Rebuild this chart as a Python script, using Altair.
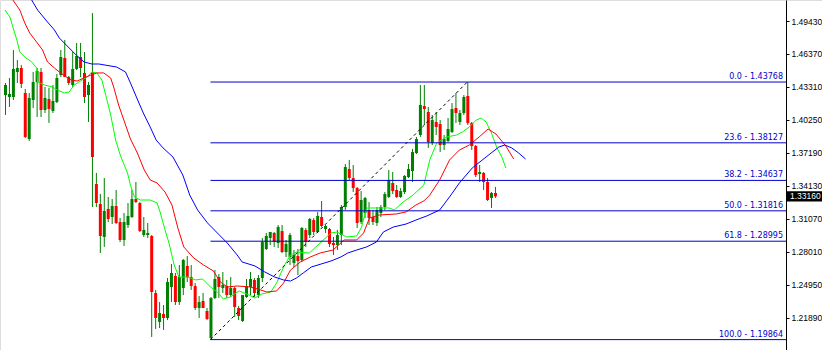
import altair as alt
import pandas as pd

# ---- candle data (bar index 0..124) ----
opens = [1.4256,1.4238,1.4238,1.4470,1.4507,1.4275,1.3848,1.4210,1.4377,1.4470,
         1.4117,1.4219,1.4108,1.4191,1.4442,1.4600,1.4423,1.4349,1.4498,1.4609,
         1.4461,1.4256,1.4470,1.3430,1.3245,1.2939,1.3199,1.3124,1.3226,1.3078,
         1.2911,1.3050,1.3124,1.3291,1.3254,1.2957,1.2957,1.2948,1.2419,1.2150,
         1.2224,1.2187,1.2475,1.2577,1.2335,1.2465,1.2670,1.2567,1.2484,1.2280,
         1.2345,1.2252,1.2001,1.2373,1.2567,1.2465,1.2484,1.2400,1.2465,1.2280,
         1.2159,1.2382,1.2475,1.2540,1.2400,1.2558,1.2827,1.2929,1.2976,1.2883,
         1.2994,1.2799,1.2753,1.2697,1.2762,1.2725,1.3004,1.2957,1.3096,1.2985,
         1.3124,1.3013,1.3013,1.2883,1.2864,1.2957,1.3217,1.3570,1.3486,1.3393,
         1.3078,1.3161,1.3189,1.3124,1.3069,1.3161,1.3217,1.3310,1.3440,1.3375,
         1.3310,1.3356,1.3495,1.3551,1.3718,1.3885,1.4154,1.4099,1.3811,1.4006,
         1.3987,1.3792,1.3830,1.3913,1.4136,1.4006,1.4089,1.4247,1.3997,1.3783,
         1.3523,1.3533,1.3449,1.3301,1.3347]
highs = [1.4368,1.4414,1.4674,1.4581,1.4535,1.4312,1.4275,1.4470,1.4507,1.4507,
         1.4331,1.4321,1.4349,1.4451,1.4674,1.4767,1.4433,1.4655,1.4739,1.4739,
         1.4655,1.4377,1.5017,1.3533,1.3338,1.3486,1.3310,1.3291,1.3375,1.3115,
         1.3161,1.3254,1.3375,1.3449,1.3263,1.3124,1.3069,1.2957,1.2447,1.2335,
         1.2308,1.2558,1.2688,1.2605,1.2679,1.2734,1.2762,1.2679,1.2512,1.2391,
         1.2419,1.2280,1.2382,1.2632,1.2595,1.2614,1.2540,1.2567,1.2475,1.2298,
         1.2400,1.2549,1.2614,1.2558,1.2586,1.2929,1.2976,1.2985,1.2985,1.3050,
         1.3050,1.2911,1.2976,1.2818,1.2827,1.3031,1.3022,1.3115,1.3115,1.3171,
         1.3273,1.3050,1.3022,1.2939,1.3004,1.3236,1.3616,1.3653,1.3607,1.3403,
         1.3365,1.3310,1.3263,1.3189,1.3217,1.3236,1.3356,1.3560,1.3542,1.3421,
         1.3393,1.3514,1.3616,1.3755,1.3867,1.4349,1.4349,1.4145,1.4071,1.4099,
         1.4024,1.3885,1.4043,1.4182,1.4275,1.4117,1.4256,1.43768,1.4006,1.3792,
         1.3607,1.3542,1.3486,1.3356,1.3403]
lows = [1.4071,1.4145,1.4210,1.4368,1.4321,1.3857,1.3830,1.4136,1.4052,1.4052,
        1.4089,1.3997,1.4089,1.4182,1.4423,1.4423,1.4349,1.4331,1.4488,1.4423,
        1.4182,1.4006,1.3217,1.3217,1.2790,1.2846,1.3078,1.3059,1.3059,1.2892,
        1.2855,1.3022,1.3115,1.3254,1.2985,1.2939,1.2929,1.2011,1.2085,1.2094,
        1.2076,1.2168,1.2335,1.2308,1.2308,1.2400,1.2521,1.2447,1.2261,1.2187,
        1.2280,1.2168,1.19864,1.2363,1.2373,1.2419,1.2373,1.2382,1.2196,1.2168,
        1.2150,1.2373,1.2400,1.2382,1.2373,1.2521,1.2818,1.2864,1.2846,1.2837,
        1.2790,1.2753,1.2679,1.2660,1.2586,1.2707,1.2846,1.2929,1.2957,1.2976,
        1.3031,1.2976,1.2846,1.2772,1.2818,1.2864,1.3189,1.3468,1.3356,1.3022,
        1.3059,1.3115,1.3050,1.3050,1.3041,1.3124,1.3189,1.3301,1.3338,1.3301,
        1.3301,1.3338,1.3486,1.3449,1.3709,1.3867,1.3978,1.3765,1.3792,1.3885,
        1.3727,1.3746,1.3820,1.3904,1.3997,1.3978,1.4071,1.3978,1.3746,1.3495,
        1.3449,1.3375,1.3273,1.3208,1.3301]
closes = [1.4349,1.4266,1.4498,1.4507,1.4359,1.3867,1.4229,1.4377,1.4479,1.4117,
          1.4229,1.4126,1.4201,1.4414,1.4609,1.4423,1.4368,1.4498,1.4618,1.4507,
          1.4238,1.4349,1.3681,1.3254,1.2948,1.3180,1.3106,1.3226,1.3069,1.2911,
          1.3078,1.3134,1.3291,1.3263,1.2994,1.3004,1.2976,1.2428,1.2187,1.2233,
          1.2187,1.2521,1.2605,1.2335,1.2567,1.2725,1.2567,1.2484,1.2280,1.2335,
          1.2280,1.2178,1.2373,1.2549,1.2475,1.2493,1.2400,1.2465,1.2289,1.2206,
          1.2400,1.2484,1.2549,1.2419,1.2558,1.2892,1.2948,1.2985,1.2892,1.3031,
          1.2799,1.2874,1.2957,1.2772,1.2716,1.3022,1.2892,1.3106,1.2985,1.3134,
          1.3041,1.3041,1.2874,1.2864,1.2957,1.3217,1.3588,1.3486,1.3393,1.3069,
          1.3282,1.3301,1.3115,1.3078,1.3189,1.3217,1.3338,1.3468,1.3365,1.3310,
          1.3365,1.3505,1.3570,1.3727,1.3848,1.4164,1.4126,1.3820,1.4024,1.3959,
          1.3792,1.3848,1.3941,1.4126,1.4089,1.4089,1.4238,1.3997,1.3783,1.3514,
          1.3542,1.3449,1.3282,1.3347,1.3316]

# ---- Alligator-style lines (bar index, price) ----
green_i = [0,1.25,2,3,3.75,5,6.75,8,8.25,10,12,13.25,15,16.25,17.5,19.5,20.75,22,23.25,24.5,
           25.5,26.75,28,29.25,31,31.75,32.75,34.25,36.75,38.5,39.25,40.5,41.5,42.75,44,46.25,
           48.25,50,52,53.75,55.25,57,59.25,61.75,63.25,65,67.25,68.75,70.5,72.25,73.75,77,
           79.75,82.5,84,86.5,89,90.25,91.5,94,97.25,98.5,100.75,103.25,106,107.5,109.25,
           111.75,114.25,115.75,117.5,119.25,120.5,121.75,123,124.5,125.75,126.75]
green_v = [1.5045,1.4980,1.4887,1.4767,1.4655,1.4609,1.4563,1.4507,1.4377,1.4349,1.4331,1.4303,
           1.4275,1.4284,1.4349,1.4396,1.4423,1.4470,1.4461,1.4396,1.4256,1.4071,1.3839,1.3690,
           1.3533,1.3421,1.3310,1.3282,1.3282,1.3254,1.3171,1.3004,1.2883,1.2688,1.2567,1.2567,
           1.2540,1.2549,1.2475,1.2428,1.2363,1.2382,1.2438,1.2400,1.2373,1.2410,1.2428,1.2512,
           1.2660,1.2772,1.2799,1.2790,1.2883,1.2976,1.2985,1.2939,1.2948,1.3031,1.3208,1.3208,
           1.3208,1.3189,1.3263,1.3328,1.3421,1.3653,1.3811,1.3867,1.3885,1.3913,1.3959,1.4024,
           1.4043,1.4006,1.3913,1.3765,1.3681,1.3579]
red_i = [1,2,3.75,5,6.25,8,9.5,10.75,12.5,13.75,15.5,16.75,18.25,20.5,21.75,23.25,25,26.75,27.5,
         28.75,30.25,31.75,33.5,35.25,36.75,38.5,40.5,42.25,43.75,45.25,47.75,50.25,52.75,54.5,
         56.25,58.75,62,64,66.25,68.75,70.5,72.25,74.75,77.25,79.75,83,85,85.75,89,90.75,92.25,
         94.75,99,101.5,104,106,107.5,110,112.5,115,117.5,120,122.25,124.25,126.75,128.75]
red_v = [1.5249,1.5138,1.5045,1.4925,1.4832,1.4748,1.4674,1.4563,1.4507,1.4470,1.4423,1.4396,
         1.4386,1.4423,1.4442,1.4461,1.4461,1.4414,1.4331,1.4164,1.4006,1.3848,1.3718,1.3560,
         1.3468,1.3440,1.3356,1.3236,1.3022,1.2846,1.2744,1.2679,1.2623,1.2521,1.2475,1.2484,
         1.2475,1.2456,1.2428,1.2438,1.2512,1.2632,1.2707,1.2753,1.2790,1.2818,1.2883,1.2911,
         1.2911,1.2976,1.3115,1.3143,1.3152,1.3171,1.3236,1.3273,1.3328,1.3468,1.3653,1.3746,
         1.3792,1.3867,1.3941,1.3894,1.3783,1.3662]
blue_i = [5.25,6.75,8.25,10.75,12.5,13.75,15,16.75,18,20,22,23.75,28.25,30.5,31.75,33.25,35,36.75,
          38.25,40,42.5,45,46.75,48.75,51.25,53.75,56.25,58.75,60,63.25,65.75,68.25,70.5,72.25,
          73.75,75.5,77.5,80,82.5,85,86.75,89,91.5,94,95.75,98.25,101.5,104,106.75,110,112.5,
          115,118.25,121.75,125,126.5,128.25,130,131.75]
blue_v = [1.5231,1.5138,1.5045,1.4934,1.4860,1.4785,1.4739,1.4674,1.4628,1.4563,1.4544,1.4544,
          1.4516,1.4470,1.4368,1.4238,1.4089,1.3959,1.3839,1.3765,1.3681,1.3514,1.3328,1.3189,
          1.3069,1.2976,1.2883,1.2772,1.2707,1.2670,1.2614,1.2567,1.2540,1.2530,1.2558,1.2605,
          1.2660,1.2688,1.2716,1.2753,1.2790,1.2818,1.2846,1.2892,1.2985,1.3031,1.3059,1.3096,
          1.3134,1.3189,1.3310,1.3440,1.3579,1.3681,1.3774,1.3792,1.3765,1.3718,1.3662]

# ---- Fibonacci retracement ----
fib_pct = ["0.0", "23.6", "38.2", "50.0", "61.8", "100.0"]
fib_val = [1.43768, 1.38127, 1.34637, 1.31816, 1.28995, 1.19864]
swing_i = [52, 117]
swing_v = [1.19864, 1.43768]

tick_values = [1.4943, 1.4637, 1.4331, 1.4025, 1.3719, 1.3413, 1.3107, 1.2801, 1.2495, 1.2189]
last_price = 1.3316
last_label = "1.33160"

FONT = "DejaVu Sans"
AXIS_FONT = "Liberation Sans"
FIB_COLOR = "#0000CD"

candles = pd.DataFrame({"i": list(range(len(opens))), "o": opens, "h": highs,
                        "l": lows, "c": closes})
xs = alt.Scale(domain=[0, 205.5], nice=False, zero=False)
ys = alt.Scale(domain=[1.1890, 1.5138], nice=False, zero=False)
yaxis = alt.Axis(orient="right", offset=-36, values=tick_values, format=".5f", grid=False,
                 title=None, domainColor="black", tickColor="black", tickSize=3,
                 labelFont=AXIS_FONT, labelFontSize=8.5, labelColor="black", labelPadding=2,
                 labelOverlap=False, labelFlush=False)
X = lambda f: alt.X(f, scale=xs, axis=None)
Y = lambda f: alt.Y(f, scale=ys, axis=yaxis)

wicks = alt.Chart(candles).mark_rule(color="#008000", strokeWidth=1, xOffset=0.5).encode(
    x=X("i:Q"), y=Y("l:Q"), y2="h:Q")
bodies = alt.Chart(candles).mark_bar(size=3, xOffset=0.5).encode(
    x=X("i:Q"), y=Y("o:Q"), y2="c:Q",
    color=alt.condition("datum.c >= datum.o", alt.value("#008000"), alt.value("#FF0000")))

def ma(idx, vals, color):
    df = pd.DataFrame({"i": idx, "v": vals})
    return alt.Chart(df).mark_line(color=color, strokeWidth=1, clip=True).encode(
        x=X("i:Q"), y=Y("v:Q"))

green = ma(green_i, green_v, "#00FF00")
red = ma(red_i, red_v, "#FF0000")
blue = ma(blue_i, blue_v, "#0000FF")

fib_df = pd.DataFrame({"v": fib_val,
                       "label": [f"{p} - {v:.5f}" for p, v in zip(fib_pct, fib_val)],
                       "start": [swing_i[0]] * len(fib_val)})
fib_rules = alt.Chart(fib_df).mark_rule(color=FIB_COLOR, strokeWidth=1).encode(
    x=X("start:Q"), x2=alt.value(786), y=Y("v:Q"))
fib_labels = alt.Chart(fib_df).mark_text(align="right", baseline="bottom", dy=-1, font=FONT,
                                         fontSize=8, color=FIB_COLOR).encode(
    x=alt.value(783), y=Y("v:Q"), text="label:N")

swing = alt.Chart(pd.DataFrame({"i": swing_i, "v": swing_v})).mark_line(
    color="black", strokeWidth=1, strokeDash=[3, 3]).encode(x=X("i:Q"), y=Y("v:Q"))

price_df = pd.DataFrame({"p": [last_price], "t": [last_label]})
box = alt.Chart(price_df).transform_calculate(
    top="datum.p + 0.0047", bot="datum.p - 0.0047").mark_rect(color="black", clip=False).encode(
    x=alt.value(787), x2=alt.value(822), y=Y("top:Q"), y2="bot:Q")
box_text = alt.Chart(price_df).mark_text(align="left", baseline="middle", font=AXIS_FONT,
                                         fontSize=8.5, color="white").encode(
    x=alt.value(790), y=Y("p:Q"), text="t:N")

chart = alt.layer(wicks, bodies, green, red, blue, fib_rules, fib_labels, swing, box, box_text
                  ).properties(width=822, height=350,
                               autosize=alt.AutoSizeParams(type="none"), padding=0
                  ).configure_view(strokeWidth=0).configure(background="white")

chart.save("out.html", embed_options={"renderer": "svg", "actions": False})
